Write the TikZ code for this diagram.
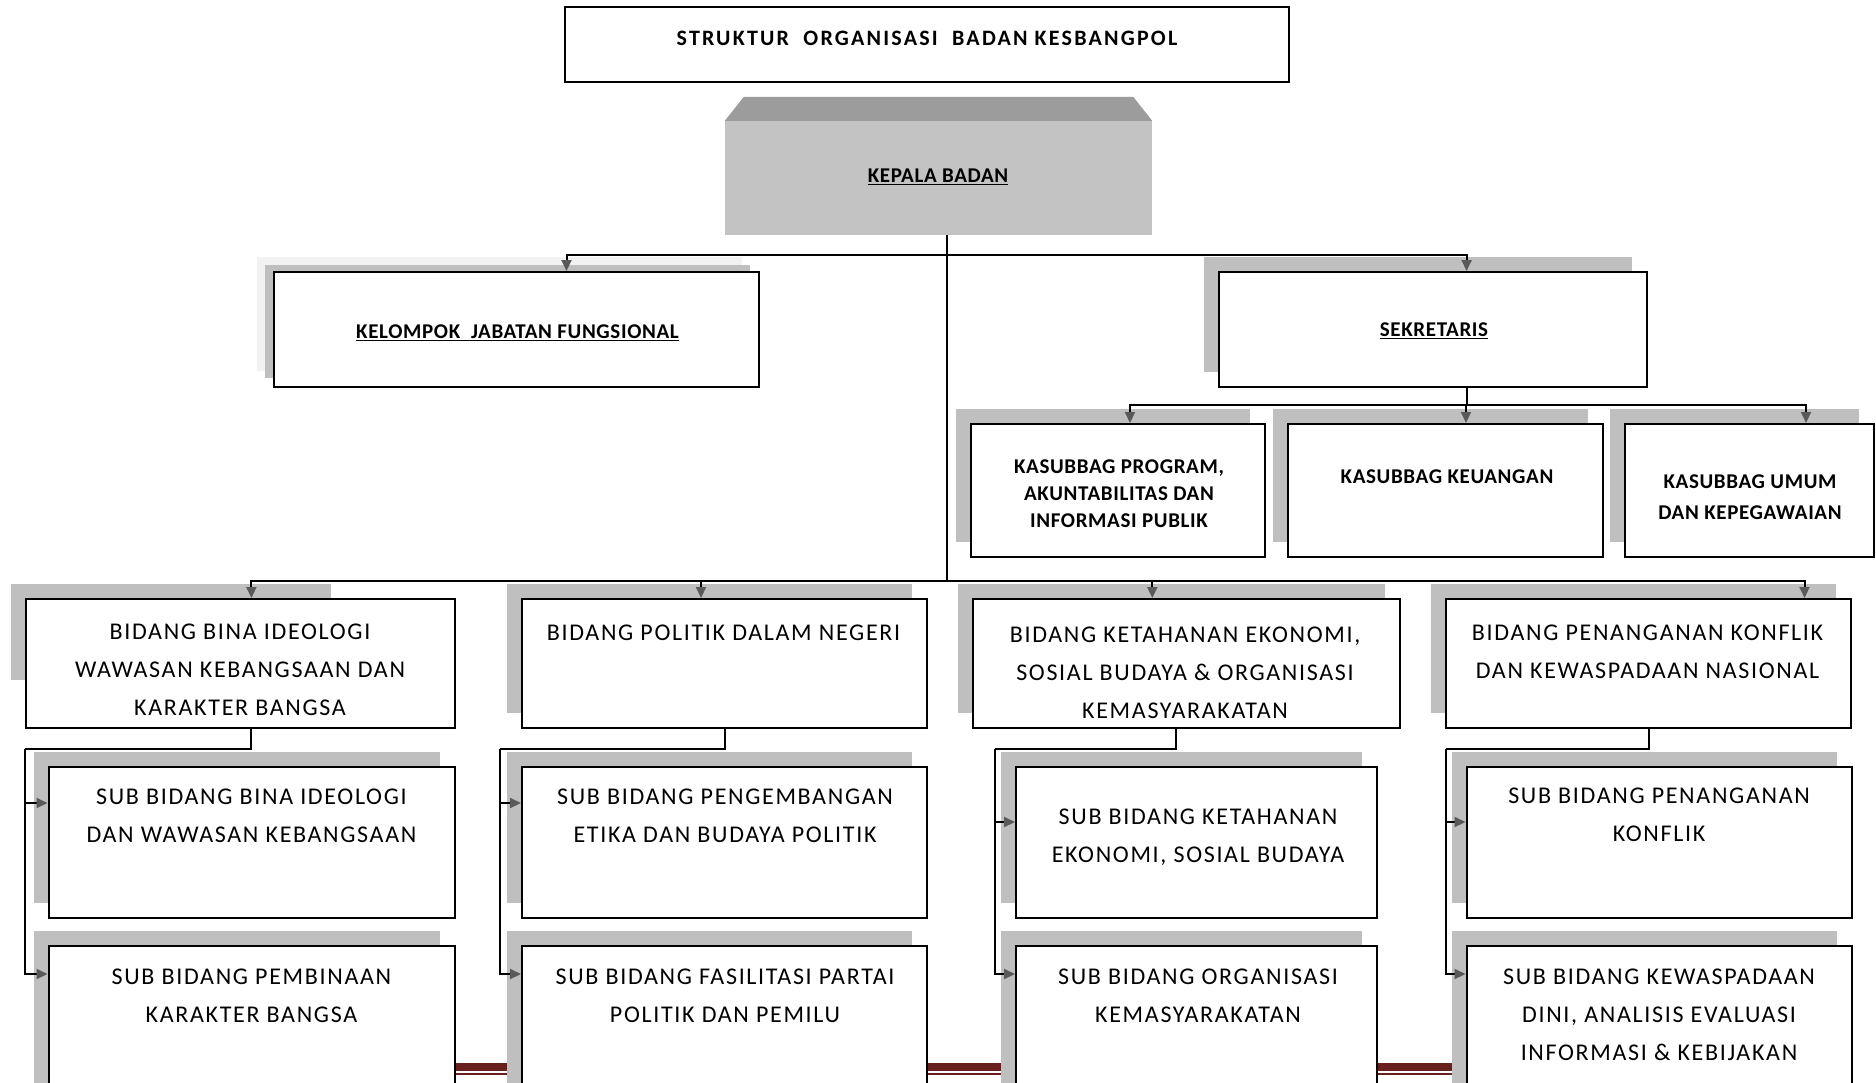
\documentclass[tikz,border=0pt]{standalone}
\usepackage{fontspec}
\setmainfont{Carlito}
\usetikzlibrary{arrows.meta,shadows}

\definecolor{shadowgrey}{HTML}{BFBFBF}
\definecolor{palegrey}{HTML}{F2F2F2}
\definecolor{headgrey}{HTML}{C3C3C3}
\definecolor{bevelgrey}{HTML}{9C9C9C}
\definecolor{arrowgrey}{HTML}{595959}
\definecolor{footred}{HTML}{6A1F1F}

\tikzset{
    box/.style={draw=black, line width=2pt, fill=white, inner sep=0pt},
    shadowed/.style={general shadow={fill=shadowgrey, shadow xshift=-15pt, shadow yshift=15pt}},
    headtext/.style={font=\bfseries\fontsize{21}{27}\selectfont\addfontfeatures{LetterSpace=3}, align=center, inner sep=0pt},
    bodytext/.style={font=\fontsize{24}{38}\selectfont\addfontfeatures{LetterSpace=7}, align=center, inner sep=0pt},
    conn/.style={line width=2pt},
    arr/.style={conn, -{Triangle[length=11pt, width=10pt, color=arrowgrey]}},
}

\begin{document}
\begin{tikzpicture}[x=1pt,y=-1pt]
    \useasboundingbox (0,0) rectangle (1876,1082);
    \clip (0,0) rectangle (1876,1082);

    % footer band
    \fill[footred] (40,1063) rectangle (1845,1071);
    \fill[footred] (40,1073) rectangle (1845,1075);

    % title and head
    \node[box, line width=1.5pt, minimum width=724pt, minimum height=75pt] (title) at (927,44.5) {};
    \node[fill=headgrey, inner sep=0pt, minimum width=427pt, minimum height=114pt] (kepala) at (938.5,178) {};
    \fill[bevelgrey] (kepala.north west) -- ([xshift=19pt,yshift=24pt]kepala.north west)
        -- ([xshift=-19pt,yshift=24pt]kepala.north east) -- (kepala.north east) -- cycle;

    % second level
    \fill[palegrey] (256.5,257) rectangle (742,371);
    \fill[shadowgrey] (265,265) rectangle (750,378);
    \node[box, minimum width=485pt, minimum height=115pt] (kjf) at (516,329.5) {};
    \node[box, shadowed, minimum width=428pt, minimum height=115pt] (sek) at (1433.3,329.5) {};

    % kasubbag
    \foreach \i/\x/\w in {1/1118/294, 2/1445/315, 3/1749.4/249}
        \node[box, shadowed, minimum width=\w pt, minimum height=133pt] (k\i) at (\x,490.5) {};

    % bidang
    \fill[shadowgrey] (11,584) rectangle (331,680);
    \node[box, minimum width=429pt, minimum height=129pt] (b1) at (240,663.5) {};
    \foreach \i/\x/\w in {2/724.5/405, 3/1186.3/427, 4/1648.8/405}
        \node[box, shadowed, minimum width=\w pt, minimum height=129pt] (b\i) at (\x,663.5) {};

    % sub bidang
    \foreach \i/\x/\w in {1/251.5/406, 2/724.5/405, 3/1196.5/361, 4/1659/385} {
        \node[box, shadowed, minimum width=\w pt, minimum height=151pt] (s\i-a) at (\x,842.5) {};
        \node[box, shadowed, minimum width=\w pt, minimum height=154pt] (s\i-b) at (\x,1023) {};
    }

    % connectors
    \coordinate (bus1) at (947,255);
    \coordinate (bus2) at (947,581);
    \coordinate (bus3) at (1466.6,405);
    \draw[conn] ([xshift=8.5pt]kepala.south) -- (bus2);
    \draw[arr] (bus1) -| ([xshift=50.5pt]kjf.north);
    \draw[arr] (bus1) -| ([xshift=33.3pt]sek.north);
    \draw[conn] ([xshift=33.3pt]sek.south) -- (bus3);
    \foreach \i/\dx in {1/12, 2/21, 3/56.6}
        \draw[arr] (bus3) -| ([xshift=\dx pt]k\i.north);
    \foreach \i/\dx in {1/11.4, 2/-23.5, 3/-34, 4/155.7}
        \draw[arr] (bus2) -| ([xshift=\dx pt]b\i.north);
    \foreach \i/\cx/\dx/\ay in {1/25.4/11.4/37, 2/500/0/37, 3/995/-10.5/56, 4/1446/0/56} {
        \coordinate (c\i) at (\cx,749);
        \draw[conn] ([xshift=\dx pt]b\i.south) |- (c\i);
        \draw[arr] (c\i) |- ([yshift=-\ay pt]s\i-a.north west);
        \draw[arr] (c\i) |- ([yshift=-29pt]s\i-b.north west);
    }

    % texts
    \node[headtext, font=\bfseries\fontsize{22}{27}\selectfont\addfontfeatures{LetterSpace=10}, anchor=base] (t-title) at (927,45) {STRUKTUR\ \ ORGANISASI\ \ BADAN KESBANGPOL};
    \node[headtext, anchor=base] (t-kepala) at (938,182.5) {\underline{KEPALA BADAN}};
    \node[headtext, anchor=base] (t-kjf) at (517.5,338.5) {\underline{KELOMPOK\ \ JABATAN FUNGSIONAL}};
    \node[headtext, anchor=base] (t-sek) at (1434,336.5) {\underline{SEKRETARIS}};
    \node[headtext] (t-k1) at (1119,494) {KASUBBAG PROGRAM,\\AKUNTABILITAS DAN\\INFORMASI PUBLIK};
    \node[headtext, anchor=base] (t-k2) at (1447,483.5) {KASUBBAG KEUANGAN};
    \node[headtext, font=\bfseries\fontsize{21}{31}\selectfont\addfontfeatures{LetterSpace=3}] (t-k3) at (1750,497.5) {KASUBBAG UMUM\\DAN KEPEGAWAIAN};

    \node[bodytext] (t-b1) at (240,670) {BIDANG BINA IDEOLOGI\\WAWASAN KEBANGSAAN DAN\\KARAKTER BANGSA};
    \node[bodytext] (t-b2) at (723.5,633) {BIDANG POLITIK DALAM NEGERI};
    \node[bodytext] (t-b3) at (1185,672.5) {BIDANG KETAHANAN EKONOMI,\\SOSIAL BUDAYA \& ORGANISASI\\KEMASYARAKATAN};
    \node[bodytext] (t-b4) at (1647.5,652) {BIDANG PENANGANAN KONFLIK\\DAN KEWASPADAAN NASIONAL};

    \node[bodytext] (t-s1a) at (251.4,815.5) {SUB BIDANG BINA IDEOLOGI\\DAN WAWASAN KEBANGSAAN};
    \node[bodytext] (t-s1b) at (251.4,996) {SUB BIDANG PEMBINAAN\\KARAKTER BANGSA};
    \node[bodytext] (t-s2a) at (725,815.5) {SUB BIDANG PENGEMBANGAN\\ETIKA DAN BUDAYA POLITIK};
    \node[bodytext] (t-s2b) at (725,996) {SUB BIDANG FASILITASI PARTAI\\POLITIK DAN PEMILU};
    \node[bodytext] (t-s3a) at (1198,837.5) {SUB BIDANG KETAHANAN\\EKONOMI, SOSIAL BUDAYA};
    \node[bodytext] (t-s3b) at (1198,996) {SUB BIDANG ORGANISASI\\KEMASYARAKATAN};
    \node[bodytext] (t-s4a) at (1659,814.5) {SUB BIDANG PENANGANAN\\KONFLIK};
    \node[bodytext] (t-s4b) at (1659,1015) {SUB BIDANG KEWASPADAAN\\DINI, ANALISIS EVALUASI\\INFORMASI \& KEBIJAKAN};
\end{tikzpicture}
\end{document}
